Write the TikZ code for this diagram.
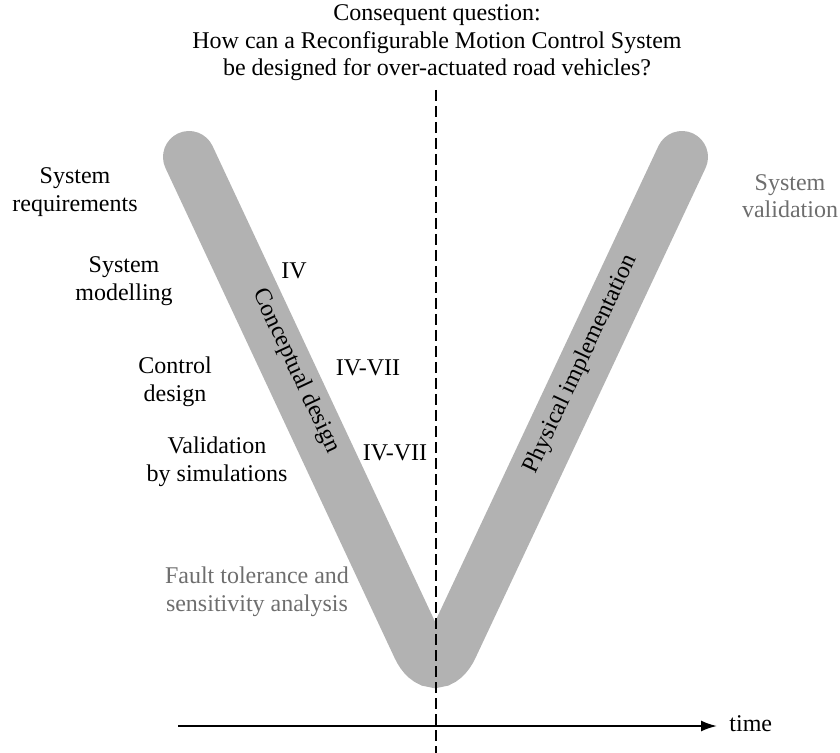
\documentclass[tikz,border=0pt]{standalone}
\usepackage{fontspec}
\setmainfont{Liberation Serif}
\usetikzlibrary{arrows.meta}
\begin{document}
\begin{tikzpicture}[x=0.5pt,y=-0.5pt,
  lbl/.style={align=center,font=\fontsize{12}{13.8}\selectfont,inner sep=0pt},
  faded/.style={lbl,text=black!57},
  arm/.style={line width=26pt,draw=black!30,line cap=round,rounded corners=20pt},
  timeline/.style={line width=1pt,-{Latex[length=8pt,width=5.5pt]}},
  divider/.style={line width=1.4pt,dash pattern=on 5.5pt off 2.5pt}]
\useasboundingbox (0,0) rectangle (840,753);

% the V of the design process
\coordinate (ltop) at (189,157);
\coordinate (vbot) at (435,683);
\coordinate (rtop) at (682,157);
\draw[arm] (ltop) -- (vbot) -- (rtop);

% labels along the arms
\node[lbl,rotate=-64.9] (concept) at (296,371) {Conceptual design};
\node[lbl,rotate=64.9] (physical) at (581,364) {Physical implementation};

% time axis
\coordinate (tstart) at (178,726);
\coordinate (tend) at (717,726);
\draw[timeline] (tstart) -- (tend);
\node[lbl,anchor=west] (time) at (729,724) {time};

% dividing line between design and implementation
\coordinate (dtop) at (436,90);
\coordinate (dbot) at (436,753);
\draw[divider] (dtop) -- (dbot);

% question
\node[lbl] (question) at (437,43) {Consequent question:\\How can a Reconfigurable Motion Control System\\be designed for over-actuated road vehicles?};

% design steps
\node[lbl] (req) at (75,192) {System\\requirements};
\node[lbl] (model) at (124,281) {System\\modelling};
\node[lbl] (ctrl) at (175,382) {Control\\design};
\node[lbl] (valsim) at (217,462) {Validation\\by simulations};
\node[faded] (fault) at (257,592) {Fault tolerance and\\sensitivity analysis};
\node[faded] (sysval) at (790,196) {System\\validation};

% paper references
\node[lbl] (p1) at (294,271) {IV};
\node[lbl] (p2) at (368,368) {IV-VII};
\node[lbl] (p3) at (395,453) {IV-VII};
\end{tikzpicture}
\end{document}
